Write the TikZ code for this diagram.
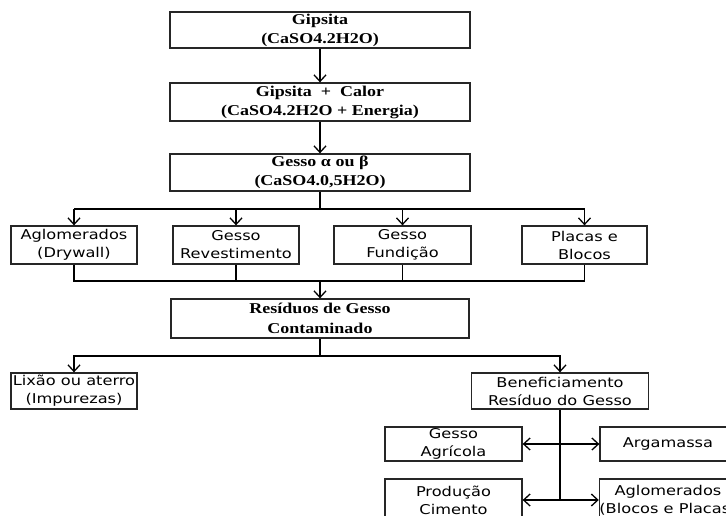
\documentclass[tikz,border=0pt]{standalone}
\usepackage{fontspec}
\usetikzlibrary{arrows.meta}
\newfontfamily\serifx[FakeStretch=1.2]{Liberation Serif}
\newfontfamily\sansx[FakeStretch=1.2]{DejaVu Sans}
\begin{document}
\begin{tikzpicture}[x=1pt,y=-1pt,
  box/.style={draw=black!85,line width=1.3pt,inner sep=0pt,align=center,rectangle},
  sbox/.style={box,font=\serifx\bfseries\fontsize{15}{19}\selectfont},
  tbox/.style={box,font=\sansx\fontsize{13.5}{18}\selectfont},
  ln/.style={line width=1.5pt,black},
  tip/.tip={Straight Barb[length=6.5pt,width=12pt,line width=1.3pt]},
  arr/.style={ln,-tip},
  arr2/.style={ln,tip-tip}]
\clip (0,0) rectangle (726,516);
\fill[white] (0,0) rectangle (726,516);
\node[sbox,minimum width=300,minimum height=36] (g1) at (320,30) {Gipsita\\(CaSO4.2H2O)};
\node[sbox,minimum width=300,minimum height=38] (g2) at (320,102) {Gipsita \ + \ Calor\\(CaSO4.2H2O + Energia)};
\node[sbox,minimum width=300,minimum height=37] (g3) at (320,172.5) {Gesso α ou β\\(CaSO4.0,5H2O)};
\node[tbox,minimum width=126,minimum height=38] (a1) at (74,245) {Aglomerados\\(Drywall)};
\node[tbox,minimum width=126,minimum height=38] (a2) at (236,245) {Gesso\\Revestimento};
\node[tbox,minimum width=137,minimum height=38] (a3) at (402.5,245) {Gesso\\Fundição};
\node[tbox,minimum width=125,minimum height=38] (a4) at (584.5,245) {Placas e\\Blocos};
\node[box,font=\serifx\bfseries\fontsize{15}{20}\selectfont,minimum width=298,minimum height=39] (res) at (320,318.5) {Resíduos de Gesso\\Contaminado};
\node[tbox,minimum width=126,minimum height=36] (lix) at (74,391) {Lixão ou aterro\\(Impurezas)};
\node[tbox,minimum width=177,minimum height=36] (ben) at (560,391) {Beneficiamento\\Resíduo do Gesso};
\node[tbox,minimum width=137,minimum height=34] (agr) at (453.5,444) {Gesso\\Agrícola};
\node[tbox,minimum width=136,minimum height=34] (arg) at (668,444) {Argamassa};
\node[tbox,minimum width=137,minimum height=42] (pro) at (453.5,500) {Produção\\Cimento};
\node[tbox,minimum width=136,minimum height=42] (agl) at (668,500) {Aglomerados\\(Blocos e Placas)};
% connectors
\draw[arr] (g1) -- (g2);
\draw[arr] (g2) -- (g3);
\coordinate (t1) at (320,209);
\draw[ln] (g3.south) -- (t1);
\draw[ln] (a1.north |- t1) -- (a4.north |- t1);
\foreach \n in {a1,a2,a3,a4} \draw[arr] (\n.north |- t1) -- (\n.north);
\coordinate (t2) at (320,281);
\draw[ln] (a1.south) -- (a1.south |- t2) -- (a4.south |- t2) -- (a4.south);
\draw[ln] (a2.south) -- (a2.south |- t2);
\draw[ln] (a3.south) -- (a3.south |- t2);
\draw[arr] (t2) -- (res.north);
\coordinate (t3) at (320,356);
\draw[ln] (res.south) -- (t3);
\draw[arr] (t3) -| (lix.north);
\draw[arr] (t3) -| (ben.north);
\coordinate (t4) at (560,500);
\draw[ln] (ben.south) -- (t4);
\draw[arr2] (agr.east) -- (arg.west);
\draw[arr2] (pro.east) -- (agl.west);
\end{tikzpicture}
\end{document}
